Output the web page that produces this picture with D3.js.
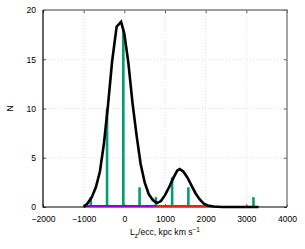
<!DOCTYPE html>
<html>
<head>
<meta charset="utf-8">
<script src="https://cdn.jsdelivr.net/npm/d3@7"></script>
<style>
  body { margin: 0; background: #fff; }
  text { font-family: "Liberation Sans", Arial, sans-serif; font-size: 8.6px; fill: #000; }
</style>
</head>
<body>
<div id="chart-container"></div>
<script>
   const margin = { left: 43, top: 10, right: 18, bottom: 42 };
   const width = 305 - margin.left - margin.right;
   const height = 249 - margin.top - margin.bottom;

   // histogram (bin centres, counts)
   const binCentres = [-825, -425, -25, 375, 775, 1175, 1575, 3175];
   const binCounts = [1, 10, 18, 2, 1, 3, 2, 1];

   // fitted curve
   const curveX = [-1000, -900, -800, -700, -600, -500, -400, -300, -190, -80, 0, 100, 200, 300, 400, 500, 600, 700, 800, 900, 1000, 1100, 1200, 1300, 1360, 1450, 1550, 1650, 1750, 1850, 1950, 2050, 2200, 2400, 3300];
   const curveY = [0, 0.4, 1.0, 2.0, 3.6, 6.5, 10.4, 14.8, 18.3, 18.8, 17.6, 14.6, 10.6, 7.3, 4.4, 2.5, 1.3, 0.7, 0.4, 0.6, 1.2, 2.0, 2.9, 3.7, 3.85, 3.6, 3.0, 2.2, 1.4, 0.8, 0.35, 0.15, 0.05, 0, 0];

   // coloured group ranges along the zero line
   const groupNames = ["purple", "red"];
   const groupFrom = [-1000, 780];
   const groupTo = [780, 2000];
   const groupColours = ["#9400d3", "#f02010"];

   const xTicks = [-2000, -1000, 0, 1000, 2000, 3000, 4000];
   const yTicks = [0, 5, 10, 15, 20];

   const x = d3.scaleLinear()
       .domain([-2000, 4000])
       .range([0, width]);

   const y = d3.scaleLinear()
       .domain([0, 20])
       .range([height, 0]);

   const svg = d3.select("#chart-container")
       .append("svg")
       .attr("width", 305)
       .attr("height", 249)
       .append("g")
       .attr("transform", `translate(${margin.left},${margin.top})`);

   // grid
   svg.append("g")
       .selectAll("line")
       .data(xTicks.slice(1, -1))
       .join("line")
       .attr("x1", d => x(d)).attr("x2", d => x(d))
       .attr("y1", 0).attr("y2", height)
       .attr("stroke", "#c8c8c8")
       .attr("stroke-width", 0.6)
       .attr("stroke-dasharray", "1,2");

   svg.append("g")
       .selectAll("line")
       .data(yTicks.slice(1, -1))
       .join("line")
       .attr("x1", 0).attr("x2", width)
       .attr("y1", d => y(d)).attr("y2", d => y(d))
       .attr("stroke", "#c8c8c8")
       .attr("stroke-width", 0.6)
       .attr("stroke-dasharray", "1,2");

   // axes: inner ticks, mirrored
   const xAxis = svg.append("g")
       .attr("transform", `translate(0,${height})`)
       .call(d3.axisBottom(x).tickValues(xTicks).tickSize(-3).tickPadding(9)
           .tickFormat(d => d < 0 ? "\u2212" + Math.abs(d) : d));
   xAxis.select(".domain").remove();
   xAxis.selectAll("line").attr("stroke", "#555");
   xAxis.selectAll("text").attr("font-size", "8.6px").attr("font-family", null);

   svg.append("g")
       .call(d3.axisTop(x).tickValues(xTicks).tickSize(-3).tickFormat(""))
       .call(g => g.select(".domain").remove())
       .selectAll("line").attr("stroke", "#555");

   const yAxis = svg.append("g")
       .call(d3.axisLeft(y).tickValues(yTicks).tickSize(-3).tickPadding(7));
   yAxis.select(".domain").remove();
   yAxis.selectAll("line").attr("stroke", "#555");
   yAxis.selectAll("text").attr("font-size", "8.6px").attr("font-family", null);

   svg.append("g")
       .attr("transform", `translate(${width},0)`)
       .call(d3.axisRight(y).tickValues(yTicks).tickSize(-3).tickFormat(""))
       .call(g => g.select(".domain").remove())
       .selectAll("line").attr("stroke", "#555");

   // histogram impulses
   svg.append("g")
       .selectAll("line")
       .data(binCentres)
       .join("line")
       .attr("x1", d => x(d)).attr("x2", d => x(d))
       .attr("y1", y(0))
       .attr("y2", (d, i) => y(binCounts[i]))
       .attr("stroke", "#009e73")
       .attr("stroke-width", 2.6);

   // border
   svg.append("path")
       .attr("d", `M0,0H${width}V${height}`)
       .attr("fill", "none")
       .attr("stroke", "#7f7f7f")
       .attr("stroke-width", 1.4);
   svg.append("path")
       .attr("d", `M0,0V${height}H${width}`)
       .attr("fill", "none")
       .attr("stroke", "#000")
       .attr("stroke-width", 1.2);

   // group ranges
   svg.append("g")
       .selectAll("line")
       .data(groupNames)
       .join("line")
       .attr("x1", (d, i) => x(groupFrom[i]))
       .attr("x2", (d, i) => x(groupTo[i]))
       .attr("y1", y(0) - 1).attr("y2", y(0) - 1)
       .attr("stroke", (d, i) => groupColours[i])
       .attr("stroke-width", 2.2);

   // fitted curve
   const line = d3.line()
       .x(d => x(d[0]))
       .y(d => y(d[1]));

   svg.append("path")
       .datum(curveX.map((v, i) => [v, curveY[i]]))
       .attr("fill", "none")
       .attr("stroke", "#000")
       .attr("stroke-width", 2.6)
       .attr("stroke-linejoin", "miter")
       .attr("d", line);

   // labels
   svg.append("text")
       .attr("transform", `translate(${10 - margin.left},${height / 2}) rotate(-90)`)
       .attr("text-anchor", "middle")
       .attr("dy", "0.35em")
       .attr("font-size", "9px")
       .text("N");

   const xl = svg.append("text")
       .attr("x", width / 2)
       .attr("y", height + 28)
       .attr("text-anchor", "middle");
   xl.append("tspan").text("L");
   xl.append("tspan").attr("dy", 2.5).attr("font-size", "6.5px").text("z");
   xl.append("tspan").attr("dy", -2.5).text("/ecc, kpc km s");
   xl.append("tspan").attr("dy", -3.5).attr("font-size", "6.5px").text("\u22121");
</script>
</body>
</html>
